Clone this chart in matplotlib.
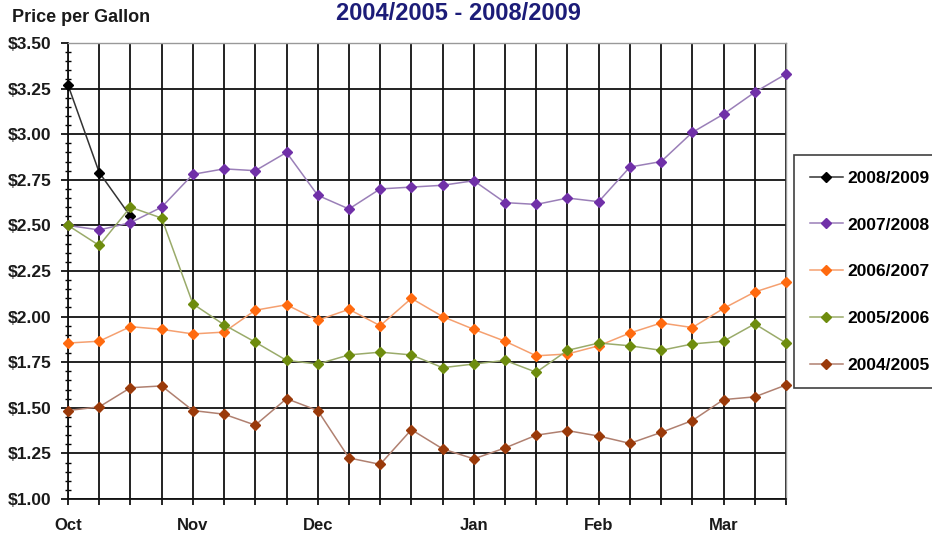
import matplotlib
matplotlib.use("Agg")
import matplotlib.pyplot as plt
from matplotlib.ticker import MultipleLocator, FixedLocator
import numpy as np

plt.rcParams['font.family'] = ['Liberation Sans', 'DejaVu Sans']

weeks = list(range(24))
month_labels = ["Oct", "Nov", "Dec", "Jan", "Feb", "Mar"]
month_pos = [0, 4, 8, 13, 17, 21]

s2008 = [3.27, 2.79, 2.55]
s2007 = [2.50, 2.475, 2.515, 2.60, 2.78, 2.81, 2.80, 2.90, 2.665, 2.59, 2.70, 2.71,
         2.72, 2.745, 2.625, 2.615, 2.65, 2.63, 2.82, 2.85, 3.01, 3.11, 3.23, 3.33]
s2006 = [1.855, 1.865, 1.945, 1.93, 1.905, 1.915, 2.035, 2.065, 1.98, 2.04, 1.95, 2.10,
         2.00, 1.93, 1.865, 1.785, 1.795, 1.84, 1.91, 1.965, 1.94, 2.045, 2.135, 2.19]
s2005 = [2.50, 2.39, 2.60, 2.54, 2.07, 1.955, 1.86, 1.76, 1.74, 1.79, 1.805, 1.79,
         1.72, 1.74, 1.76, 1.695, 1.815, 1.855, 1.84, 1.815, 1.85, 1.865, 1.96, 1.855]
s2004 = [1.485, 1.505, 1.61, 1.62, 1.485, 1.465, 1.405, 1.55, 1.485, 1.225, 1.19, 1.38,
         1.275, 1.22, 1.28, 1.35, 1.375, 1.345, 1.305, 1.365, 1.43, 1.545, 1.56, 1.625]

series = [
    ("2008/2009", s2008, "#000000", "#333333"),
    ("2007/2008", s2007, "#7030A8", "#9a7fb8"),
    ("2006/2007", s2006, "#FF6A0F", "#f5a070"),
    ("2005/2006", s2005, "#6E8C0E", "#9aab6a"),
    ("2004/2005", s2004, "#9A3A0A", "#b08070"),
]

fig = plt.figure(figsize=(9.32, 5.38), dpi=100)
ax = fig.add_axes([68/932, 1-499/538, (786-68)/932, (499-43)/538])

handles = []
for label, vals, mc, lc in series:
    h, = ax.plot(weeks[:len(vals)], vals, color=lc, lw=1.1, marker='D', markersize=5,
                 markerfacecolor=mc, markeredgecolor=mc, clip_on=False, zorder=3,
                 label=label)
    handles.append(h)

ax.set_xlim(0, 23)
ax.set_ylim(1.0, 3.5)
ax.xaxis.set_major_locator(FixedLocator(weeks))
ax.set_xticklabels([""] * len(weeks))
for p, m in zip(month_pos, month_labels):
    ax.text(p, -0.042, m, transform=ax.get_xaxis_transform(), ha='center', va='top',
            fontsize=12, fontweight='bold', color='#1a1a1a')
ax.yaxis.set_minor_locator(MultipleLocator(0.05))
ax.set_yticks(np.arange(1.0, 3.51, 0.25))
ax.set_yticklabels([f"${v:.2f}" for v in np.arange(1.0, 3.51, 0.25)],
                   fontsize=12.5, fontweight='bold', color='#1a1a1a')
ax.tick_params(axis='y', which='major', direction='out', length=5, width=1.2, pad=7)
ax.tick_params(axis='y', which='minor', direction='inout', length=4, width=1)
ax.tick_params(axis='x', which='major', direction='out', length=4, width=1.2)

ax.grid(True, which='major', color='#111111', lw=1.3, zorder=1)
ax.set_axisbelow(True)
for side in ['top', 'right']:
    ax.spines[side].set_color('#999999')
    ax.spines[side].set_linewidth(1.0)
for side in ['left', 'bottom']:
    ax.spines[side].set_color('#111111')
    ax.spines[side].set_linewidth(1.3)

fig.text(12/932, 1-18/538, "Price per Gallon", ha='left', va='center',
         fontsize=13, fontweight='bold', color='#1a1a1a')
fig.text(458/932, 1-20/538, "2004/2005 - 2008/2009", ha='center', va='baseline',
         fontsize=17, fontweight='bold', color='#1c1c78')

leg = fig.legend(handles=handles, loc='upper left', bbox_to_anchor=(794/932, 1-155/538),
                 prop={'weight': 'bold', 'size': 12.5}, frameon=True,
                 fancybox=False, edgecolor='#111111', labelspacing=1.82,
                 handlelength=1.9, handletextpad=0.3, borderpad=0.9, borderaxespad=0)
leg.get_frame().set_linewidth(1.2)

fig.savefig("out.png", dpi=100)
